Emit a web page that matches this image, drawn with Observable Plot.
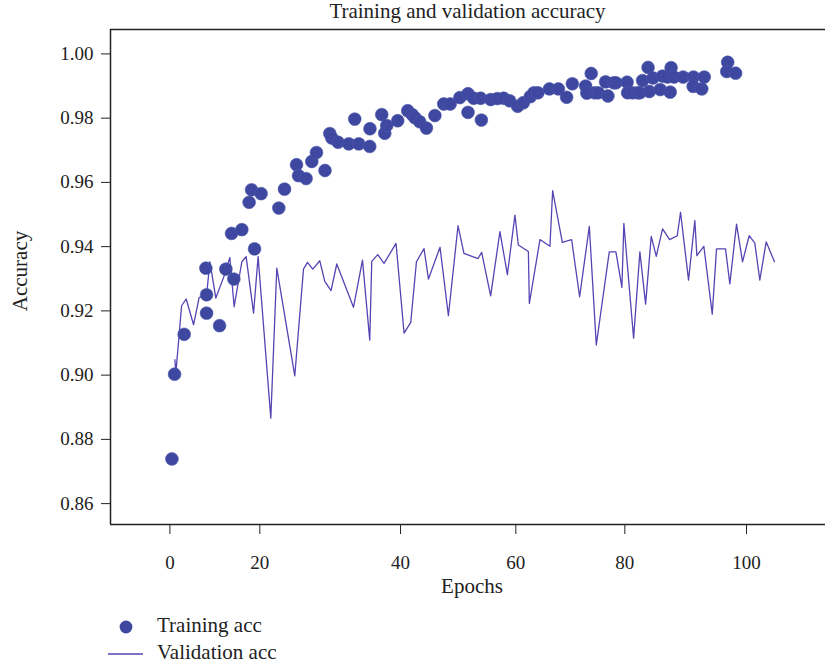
<!DOCTYPE html>
<html>
<head>
<meta charset="utf-8">
<script src="https://cdn.jsdelivr.net/npm/d3@7"></script>
<script src="https://cdn.jsdelivr.net/npm/@observablehq/plot@0.6"></script>
<style>
  body { margin: 0; background: #fff; font-family: "Liberation Serif", "DejaVu Serif", serif; color: #222; }
  #title { width: 825px; box-sizing: border-box; padding-left: 110px; height: 23px; line-height: 23px; font-size: 21px; text-align: center; white-space: nowrap; }
  #legend { position: relative; width: 825px; height: 69px; }
  #legend .lab { position: absolute; left: 157px; font-size: 21px; line-height: 23px; white-space: nowrap; }
  #legend svg { position: absolute; left: 0; top: 0; }
</style>
</head>
<body>
<div id="title">Training and validation accuracy</div>
<div id="chart"></div>
<div id="legend"></div>
<script>
// Training accuracy (scatter)
const trainEpoch = [0.35,0.81,2.48,6.36,6.36,6.24,8.61,9.71,11.09,10.69,12.48,14.68,13.74,14.16,15.82,18.89,19.88,21.96,22.31,23.62,24.61,25.42,26.90,27.73,28.08,29.17,31.02,32.06,32.76,34.66,34.70,36.74,37.26,37.61,39.51,41.25,42.03,42.51,43.33,44.49,45.96,47.49,48.61,50.29,51.70,51.70,52.69,53.90,54.02,55.63,56.79,57.89,58.93,60.31,61.30,62.50,63.14,63.83,65.82,67.37,68.80,69.79,72.10,72.31,73.07,73.66,74.28,75.56,75.96,76.98,77.35,79.29,79.38,80.24,81.14,81.51,81.98,82.93,83.15,83.78,85.04,85.44,86.92,86.76,86.31,87.44,89.01,90.80,90.75,92.24,92.67,96.74,96.57,98.11];
const trainAcc = [0.8739,0.9003,0.9127,0.9193,0.9250,0.9333,0.9154,0.9330,0.9299,0.9441,0.9453,0.9393,0.9538,0.9577,0.9565,0.9520,0.9579,0.9655,0.9621,0.9612,0.9665,0.9693,0.9637,0.9752,0.9738,0.9725,0.9720,0.9797,0.9720,0.9712,0.9767,0.9811,0.9753,0.9777,0.9792,0.9823,0.9811,0.9801,0.9789,0.9769,0.9808,0.9844,0.9844,0.9864,0.9876,0.9818,0.9862,0.9862,0.9794,0.9858,0.9861,0.9862,0.9854,0.9837,0.9848,0.9867,0.9879,0.9879,0.9891,0.9891,0.9865,0.9907,0.9900,0.9878,0.9939,0.9879,0.9879,0.9913,0.9869,0.9910,0.9910,0.9912,0.9879,0.9879,0.9879,0.9879,0.9917,0.9958,0.9883,0.9925,0.9889,0.9931,0.9957,0.9881,0.9928,0.9928,0.9928,0.9928,0.9899,0.9891,0.9928,0.9974,0.9945,0.9940];

// Validation accuracy (line)
const valEpoch = [0.87,1.04,2.03,2.82,4.11,5.08,6.36,6.93,7.97,9.41,10.40,11.14,12.48,13.22,14.51,15.30,17.50,18.54,21.66,23.17,23.86,24.78,26.00,26.86,27.95,28.94,31.84,33.40,34.66,35.01,36.05,37.14,39.22,40.61,41.77,42.76,44.07,44.84,46.85,48.30,49.97,51.00,53.43,54.07,55.63,57.24,58.53,59.84,60.43,62.17,62.34,64.18,65.91,66.38,68.06,69.67,71.06,72.74,73.95,76.20,77.35,78.39,78.73,80.42,81.51,82.50,83.48,84.35,85.44,86.66,87.99,88.56,89.95,91.04,91.39,92.60,94.06,94.80,96.36,97.11,98.27,99.31,100.47,101.44,102.31,103.41,104.85];
const valAcc = [0.9048,0.9007,0.9216,0.9237,0.9157,0.9242,0.9247,0.9353,0.9240,0.9309,0.9366,0.9213,0.9353,0.9369,0.9193,0.9369,0.8866,0.9333,0.8998,0.9330,0.9351,0.9330,0.9356,0.9292,0.9263,0.9346,0.9211,0.9358,0.9109,0.9354,0.9375,0.9348,0.9410,0.9131,0.9164,0.9353,0.9394,0.9299,0.9398,0.9185,0.9465,0.9379,0.9363,0.9382,0.9247,0.9447,0.9313,0.9498,0.9405,0.9385,0.9223,0.9422,0.9401,0.9574,0.9413,0.9422,0.9244,0.9463,0.9094,0.9384,0.9384,0.9273,0.9472,0.9115,0.9384,0.9221,0.9432,0.9370,0.9455,0.9422,0.9434,0.9507,0.9296,0.9481,0.9372,0.9401,0.9190,0.9393,0.9393,0.9284,0.9470,0.9353,0.9434,0.9411,0.9296,0.9415,0.9353];

// Axis ticks (as drawn in the original figure)
const xTickAt = [0, 15.6, 40, 60, 78.9, 100];
const xTickLabels = ["0", "20", "40", "60", "80", "100"];
const yTicks = [0.86, 0.88, 0.90, 0.92, 0.94, 0.96, 0.98, 1.00];

const xDomain = [-10.3, 113.7];
const yDomain = [0.8535, 1.0076];

const train = trainEpoch.map((e, i) => ({epoch: e, acc: trainAcc[i]}));
const val = valEpoch.map((e, i) => ({epoch: e, acc: valAcc[i]}));

const dotColor = "#3e48a0";
const lineColor = "#5544b3";

const chart = Plot.plot({
  width: 825,
  height: 577,
  marginTop: 6,
  marginLeft: 110,
  marginRight: 0,
  marginBottom: 76,
  style: {fontFamily: "Liberation Serif, serif", fontSize: "19px", color: "#222", background: "#fff"},
  x: {domain: xDomain, ticks: xTickAt, tickFormat: d => xTickLabels[xTickAt.indexOf(d)], tickSize: 10, tickPadding: 21, label: null},
  y: {domain: yDomain, ticks: yTicks, tickFormat: d => d.toFixed(2), tickSize: 9, tickPadding: 8, label: null},
  marks: [
    Plot.ruleY([yDomain[1]], {stroke: "#222", strokeWidth: 1.5}),
    Plot.ruleY([yDomain[0]], {stroke: "#222", strokeWidth: 1.5}),
    Plot.ruleX([xDomain[0]], {stroke: "#222", strokeWidth: 1.5}),
    Plot.line(val, {x: "epoch", y: "acc", stroke: lineColor, strokeWidth: 1.3, curve: "linear"}),
    Plot.dot(train, {x: "epoch", y: "acc", r: 6.4, fill: dotColor, stroke: "#4b55a8", strokeWidth: 0.6}),
    Plot.text(["Epochs"], {frameAnchor: "bottom", dy: 68, dx: 4, fontSize: 21, fill: "#222"}),
    Plot.text(["Accuracy"], {frameAnchor: "left", textAnchor: "middle", lineAnchor: "middle", dx: -90, dy: -6, rotate: -90, fontSize: 21, fill: "#222"})
  ]
});
document.getElementById("chart").appendChild(chart);

// Legend
const legend = document.getElementById("legend");
const ns = "http://www.w3.org/2000/svg";
const sw = document.createElementNS(ns, "svg");
sw.setAttribute("width", 160); sw.setAttribute("height", 69);
const c = document.createElementNS(ns, "circle");
c.setAttribute("cx", 126); c.setAttribute("cy", 27); c.setAttribute("r", 6.4);
c.setAttribute("fill", dotColor);
sw.appendChild(c);
const l = document.createElementNS(ns, "line");
l.setAttribute("x1", 108); l.setAttribute("x2", 143); l.setAttribute("y1", 54); l.setAttribute("y2", 54);
l.setAttribute("stroke", lineColor); l.setAttribute("stroke-width", 1.3);
sw.appendChild(l);
legend.appendChild(sw);
[["Training acc", 14], ["Validation acc", 41]].forEach(([t, top]) => {
  const d = document.createElement("div");
  d.className = "lab"; d.style.top = top + "px"; d.textContent = t;
  legend.appendChild(d);
});
</script>
</body>
</html>
